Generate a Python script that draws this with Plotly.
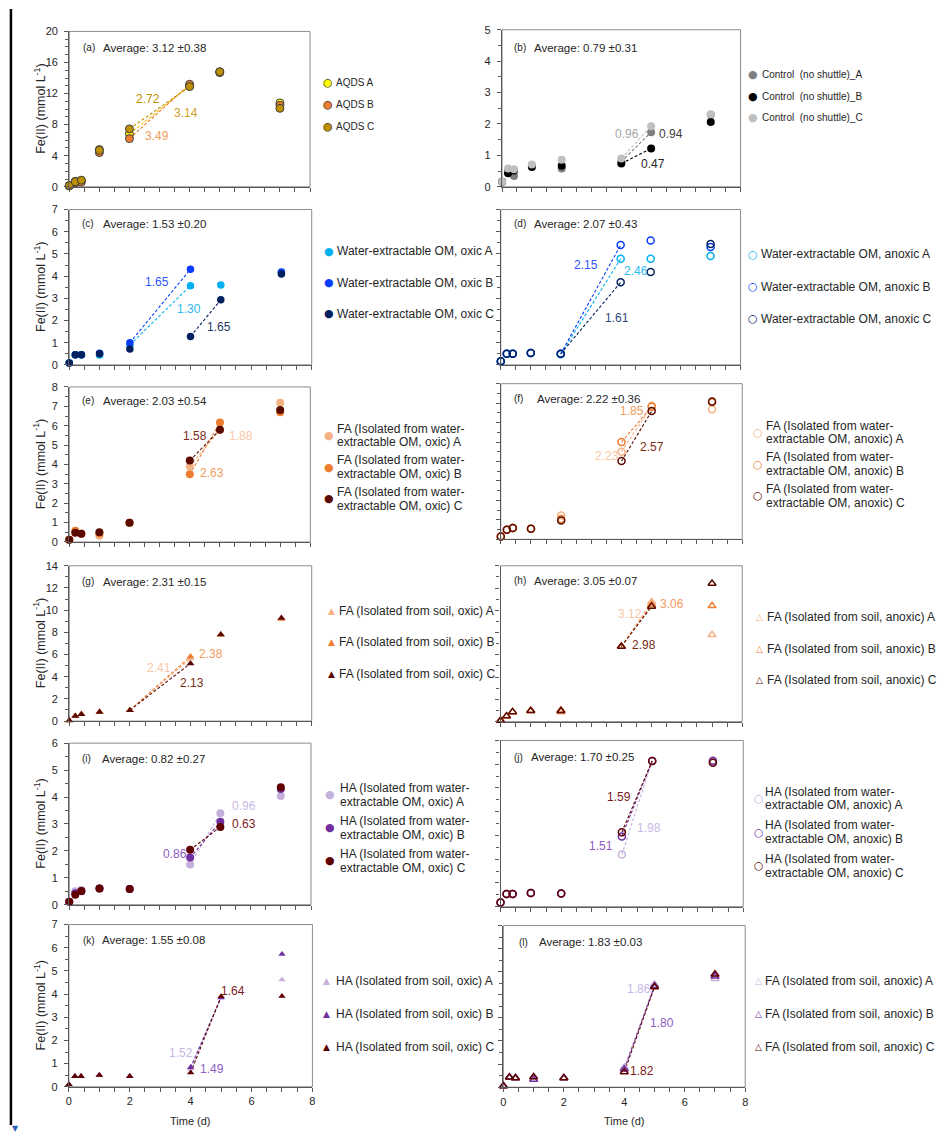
import plotly.graph_objects as go

W, H = 939, 1139

# ---------------- data ----------------
T = [0, 0.2, 0.4, 1, 2, 4, 5, 7]

a_A = [0.15, 0.7, 0.8, 4.8, 6.8, 13.0, 14.8, 10.8]
a_B = [0.1, 0.5, 0.6, 4.4, 6.2, 13.2, 14.7, 10.5]
a_C = [0.15, 0.65, 0.85, 4.7, 7.45, 12.9, 14.8, 10.1]

b_A = [0.16, 0.5, 0.34, 0.68, 0.58, 0.8, 1.74, 2.29]
b_B = [0.16, 0.43, 0.52, 0.63, 0.67, 0.74, 1.22, 2.06]
b_C = [0.16, 0.58, 0.56, 0.71, 0.86, 0.9, 1.93, 2.31]

c_A = [0.09, 0.46, 0.46, 0.45, 0.9, 3.57, 3.6, 4.15]
c_B = [0.09, 0.46, 0.46, 0.52, 1.0, 4.31, None, 4.18]
c_C = [0.09, 0.46, 0.46, 0.5, 0.72, 1.28, 2.93, 4.1]

d_A = [0.16, 0.5, 0.5, 0.54, 0.48, 4.78, 4.78, 4.91]
d_B = [0.16, 0.5, 0.5, 0.54, 0.5, 5.4, 5.61, 5.31]
d_C = [0.16, 0.5, 0.5, 0.54, 0.5, 3.72, 4.19, 5.45]

e_A = [0.12, 0.5, 0.43, 0.32, 0.99, 3.9, 5.78, 7.18]
e_B = [0.12, 0.58, 0.43, 0.45, 0.99, 3.49, 6.16, 6.7]
e_C = [0.12, 0.48, 0.43, 0.5, 0.99, 4.2, 5.79, 6.81]

f_A = [0.14, 0.49, 0.58, 0.54, 1.22, 4.5, 6.86, 6.69]
f_B = [0.14, 0.49, 0.58, 0.54, 1.05, 5.0, 6.81, 7.05]
f_C = [0.14, 0.49, 0.58, 0.54, 0.97, 4.02, 6.59, 7.08]

g_A = [0.05, 0.45, 0.62, 0.83, 0.98, 5.65, 7.77, 9.26]
g_B = [0.05, 0.45, 0.62, 0.83, 0.98, 5.83, 7.77, 9.2]
g_C = [0.05, 0.45, 0.62, 0.83, 0.98, 5.2, 7.8, 9.3]

h_A = [0.1, 0.5, 0.88, 0.98, 1.05, 6.75, 10.75, 7.8]
h_B = [0.1, 0.5, 0.88, 0.98, 0.9, 6.75, 10.5, 10.4]
h_C = [0.1, 0.5, 0.88, 0.98, 0.98, 6.75, 10.35, 12.4]

i_A = [0.11, 0.5, 0.55, 0.6, 0.58, 1.49, 3.4, 4.04]
i_B = [0.11, 0.43, 0.5, 0.6, 0.58, 1.75, 3.08, 4.3]
i_C = [0.11, 0.37, 0.51, 0.6, 0.58, 2.04, 2.89, 4.36]

j_A = [0.18, 0.54, 0.54, 0.58, 0.56, 2.2, 6.14, 6.1]
j_B = [0.18, 0.54, 0.54, 0.58, 0.56, 2.96, 6.14, 6.15]
j_C = [0.18, 0.54, 0.54, 0.58, 0.56, 3.14, 6.14, 6.06]

k_A = [0.1, 0.45, 0.45, 0.5, 0.45, 0.77, 3.85, 4.62]
k_B = [0.1, 0.45, 0.45, 0.5, 0.45, 0.84, 3.85, 5.72]
k_C = [0.1, 0.45, 0.45, 0.5, 0.45, 0.61, 3.9, 3.91]

l_A = [0.05, 0.43, 0.4, 0.44, 0.4, 0.85, 4.45, 4.7]
l_B = [0.05, 0.43, 0.4, 0.33, 0.4, 0.78, 4.38, 4.8]
l_C = [0.05, 0.43, 0.4, 0.44, 0.4, 0.66, 4.34, 4.89]

a_names = ["AQDS A", "AQDS B", "AQDS C"]
b_names = ["Control\u00a0 (no shuttle)_A", "Control\u00a0 (no shuttle)_B", "Control\u00a0 (no shuttle)_C"]
c_names = ["Water-extractable OM, oxic A", "Water-extractable OM, oxic B", "Water-extractable OM, oxic C"]
d_names = ["Water-extractable OM, anoxic A", "Water-extractable OM, anoxic B", "Water-extractable OM, anoxic C"]
e_names = ["FA (Isolated from water-<br>extractable OM, oxic) " + s for s in "ABC"]
f_names = ["FA (Isolated from water-<br>extractable OM, anoxic) " + s for s in "ABC"]
g_names = ["FA (Isolated from soil, oxic) " + s for s in "ABC"]
h_names = ["FA (Isolated from soil, anoxic) " + s for s in "ABC"]
i_names = ["HA (Isolated from water-<br>extractable OM, oxic) " + s for s in "ABC"]
j_names = ["HA (Isolated from water-<br>extractable OM, anoxic) " + s for s in "ABC"]
k_names = ["HA (Isolated from soil, oxic) " + s for s in "ABC"]
l_names = ["FA (Isolated from soil, anoxic) " + s for s in "ABC"]

averages = ["3.12 ±0.38", "0.79 ±0.31", "1.53 ±0.20", "2.07 ±0.43", "2.03 ±0.54", "2.22 ±0.36",
            "2.31 ±0.15", "3.05 ±0.07", "0.82 ±0.27", "1.70 ±0.25", "1.55 ±0.08", "1.83 ±0.03"]

a_rates = ["2.72", "3.14", "3.49"]
b_rates = ["0.96", "0.94", "0.47"]
c_rates = ["1.65", "1.30", "1.65"]
d_rates = ["2.15", "2.46", "1.61"]
e_rates = ["1.58", "1.88", "2.63"]
f_rates = ["1.85", "2.57", "2.23"]
g_rates = ["2.41", "2.38", "2.13"]
h_rates = ["3.12", "3.06", "2.98"]
i_rates = ["0.96", "0.63", "0.86"]
j_rates = ["1.59", "1.98", "1.51"]
k_rates = ["1.64", "1.52", "1.49"]
l_rates = ["1.86", "1.80", "1.82"]

x_ticks = [0, 2, 4, 6, 8]

# ---------------- styles ----------------
GOLD = ["#FFFF00", "#ED7D31", "#BF9000"]
GRAY = ["#7F7F7F", "#000000", "#BFBFBF"]
BLUE = ["#00B0F0", "#0A3CFF", "#002060"]
ORNG = ["#F4B183", "#ED7D31", "#5A0A00"]
PURP = ["#C5B0DC", "#7030A0", "#600000"]

LT_OR, OR, DK_BR = "#F8C8A8", "#F29B5E", "#7B2C14"
LT_PU, PU, DK_RD = "#C9B8E6", "#8E5CC2", "#7B1A1A"

S24, S45 = (2, 4), (4, 5)

GLYPH = {"circle": "●", "circle-open": "○", "triangle-up": "▲", "triangle-up-open": "△"}

panels = [
    dict(k="a", data=[a_A, a_B, a_C], names=a_names, col=GOLD, sym="circle", msize=8, outline="#3F3F3F",
         lcol=["#FFC000", "#ED7D31", "#BF9000"],
         seg=[S24] * 3, rates=a_rates, rpos=[(2.62, 11.3), (3.88, 9.55), (2.91, 6.5)],
         rcol=["#BF9000", "#CFA21E", "#F29B5E"],
         dom=(66.7, 309, 25.7, 182.7), ymax=20, dt=4, mdt=1, ylab=True,
         leg=(327, 334, 77, 22.5, 10), avg=(80, 100, 42)),
    dict(k="b", data=[b_A, b_B, b_C], names=b_names, col=GRAY, sym="circle", msize=8, outline=None,
         lcol=["#7F7F7F", "#000000", "#BFBFBF"],
         seg=[S45] * 3, rates=b_rates, rpos=[(4.18, 1.68), (5.65, 1.68), (5.07, 0.72)],
         rcol=["#A6A6A6", "#404040", "#262626"],
         dom=(502.3, 742.3, 24, 182.7), ymax=5, dt=1, mdt=0.5, ylab=True,
         leg=(755, 763, 69, 22, 10), avg=(513, 533, 42)),
    dict(k="c", data=[c_A, c_B, c_C], names=c_names, col=BLUE, sym="circle", msize=7.5, outline=None,
         lcol=BLUE, seg=[S24, S24, S45], rates=c_rates, rpos=[(2.9, 3.72), (3.94, 2.51), (4.93, 1.7)],
         rcol=["#3355FF", "#2EBBF0", "#1F3864"],
         dom=(66.7, 310.7, 205.7, 362.7), ymax=7, dt=1, mdt=0.5, ylab=True,
         leg=(328, 335, 248, 31.5, 12), avg=(79, 100, 220)),
    dict(k="d", data=[d_A, d_B, d_C], names=d_names, col=BLUE, sym="circle-open", msize=7, outline=None,
         lcol=BLUE, seg=[S24] * 3, rates=d_rates, rpos=[(2.85, 4.48), (4.5, 4.25), (3.88, 2.1)],
         rcol=["#3355FF", "#2EBBF0", "#2F4A7A"],
         dom=(501, 742.3, 205.7, 362.7), ymax=7, dt=1, mdt=0.5, ylab=False,
         leg=(755, 762, 251, 32.5, 12), avg=(513, 533, 220)),
    dict(k="e", data=[e_A, e_B, e_C], names=e_names, col=ORNG, sym="circle", msize=8, outline=None,
         lcol=ORNG, seg=[S45] * 3, rates=e_rates, rpos=[(4.17, 5.49), (5.69, 5.49), (4.73, 3.55)],
         rcol=[DK_BR, LT_OR, OR],
         dom=(66.7, 309.3, 385, 541.7), ymax=8, dt=1, mdt=0.5, ylab=True,
         leg=(328, 335, 434, 32, 12), avg=(79, 100, 399)),
    dict(k="f", data=[f_A, f_B, f_C], names=f_names, col=ORNG, sym="circle-open", msize=7, outline=None,
         lcol=ORNG, seg=[S45] * 3, rates=f_rates, rpos=[(4.34, 6.61), (5.0, 4.73), (3.52, 4.27)],
         rcol=[OR, DK_BR, LT_OR],
         dom=(501, 744, 381.7, 539), ymax=8, dt=1, mdt=0.5, ylab=False,
         leg=(760, 767, 431, 32, 12), avg=(513, 536, 397)),
    dict(k="g", data=[g_A, g_B, g_C], names=g_names, col=ORNG, sym="triangle-up", msize=7, outline=None,
         lcol=ORNG, seg=[S24] * 3, rates=g_rates, rpos=[(2.96, 4.79), (4.67, 6.04), (4.04, 3.45)],
         rcol=[LT_OR, OR, DK_BR],
         dom=(66.7, 310.7, 565.7, 722.7), ymax=14, dt=2, mdt=1, ylab=True,
         leg=(331, 337, 611, 32, 12), avg=(79, 100, 582)),
    dict(k="h", data=[h_A, h_B, h_C], names=h_names, col=ORNG, sym="triangle-up-open", msize=7, outline=None,
         lcol=ORNG, seg=[S45] * 3, rates=h_rates, rpos=[(4.29, 9.71), (5.67, 10.6), (4.75, 6.87)],
         rcol=[LT_OR, OR, DK_BR],
         dom=(500.7, 744, 565.7, 723.3), ymax=14, dt=2, mdt=1, ylab=False,
         leg=(761, 768, 618, 31.5, 12), avg=(513, 533, 581)),
    dict(k="i", data=[i_A, i_B, i_C], names=i_names, col=PURP, sym="circle", msize=8, outline=None,
         lcol=PURP, seg=[S45] * 3, rates=i_rates, rpos=[(5.77, 3.65), (5.77, 2.99), (3.5, 1.89)],
         rcol=[LT_PU, DK_RD, PU],
         dom=(66.7, 310, 745, 908.3), ymax=6, dt=1, mdt=0.5, ylab=True,
         leg=(329, 338, 797, 33.5, 12), avg=(79, 99, 761)),
    dict(k="j", data=[j_A, j_B, j_C], names=j_names, col=PURP, sym="circle-open", msize=7, outline=None,
         lcol=PURP, seg=[S45] * 3, rates=j_rates, rpos=[(3.91, 4.6), (4.9, 3.3), (3.32, 2.56)],
         rcol=[DK_RD, LT_PU, PU],
         dom=(500.7, 745, 742.3, 910.3), ymax=7, dt=1, mdt=0.5, ylab=False,
         leg=(761, 766, 801, 34, 12), avg=(513, 530, 759)),
    dict(k="k", data=[k_A, k_B, k_C], names=k_names, col=PURP, sym="triangle-up", msize=6.5, outline=None,
         lcol=PURP, seg=[S45] * 3, rates=k_rates, rpos=[(5.38, 4.15), (3.68, 1.46), (4.69, 0.78)],
         rcol=[DK_RD, LT_PU, PU],
         dom=(66.3, 311.4, 928.3, 1092.3), ymax=7, dt=1, mdt=0.5, ylab=True,
         leg=(326, 334, 985, 33.5, 12), avg=(80, 99, 944)),
    dict(k="l", data=[l_A, l_B, l_C], names=l_names, col=PURP, sym="triangle-up-open", msize=7, outline=None,
         lcol=PURP, seg=[S45] * 3, rates=l_rates, rpos=[(4.49, 4.27), (5.24, 2.77), (4.59, 0.72)],
         rcol=[LT_PU, PU, DK_RD],
         dom=(503.6, 747, 929.3, 1092.7), ymax=7, dt=1, mdt=0.5, ylab=False,
         leg=(760, 766, 985, 33.5, 12), avg=(518, 538, 946)),
]

FONT = "Liberation Sans, Arial, sans-serif"
GFONT = "DejaVu Sans, sans-serif"
AXC = "#595959"
TXT = "#262626"


def PX(x):
    return x / W


def PY(y):
    return 1 - y / H


fig = go.Figure()
layout = dict(width=W, height=H, margin=dict(l=0, r=0, t=0, b=0), autosize=False,
              paper_bgcolor="white", plot_bgcolor="white",
              font=dict(family=FONT, color=TXT), showlegend=False)
annotations = []
shapes = []


def txt(x, y, text, size, color=TXT, xanchor="left", family=FONT, **kw):
    d = dict(xref="paper", yref="paper", x=PX(x), y=PY(y), xanchor=xanchor, yanchor="middle",
             text=text, showarrow=False, borderpad=0, font=dict(size=size, color=color, family=family))
    d.update(kw)
    annotations.append(d)


for n, p in enumerate(panels, start=1):
    sx = "" if n == 1 else str(n)
    xa, ya = "x" + sx, "y" + sx
    x0, x1, y0, y1 = p["dom"]

    # dashed rate lines, drawn between the measured points
    for s in range(3):
        ta, tb = p["seg"][s]
        ys = p["data"][s]
        fig.add_trace(go.Scatter(
            x=[ta, tb], y=[ys[T.index(ta)], ys[T.index(tb)]], mode="lines",
            line=dict(color=p["lcol"][s], width=1.1, dash="3px,2px"),
            xaxis=xa, yaxis=ya, showlegend=False, hoverinfo="skip", cliponaxis=False))

    # measured points
    for s in range(3):
        if "open" in p["sym"]:
            mk = dict(symbol=p["sym"], size=p["msize"], color=p["col"][s],
                      line=dict(color=p["col"][s], width=1.5))
        elif p["outline"]:
            mk = dict(symbol=p["sym"], size=p["msize"], color=p["col"][s],
                      line=dict(color=p["outline"], width=1))
        else:
            mk = dict(symbol=p["sym"], size=p["msize"], color=p["col"][s], line=dict(width=0))
        fig.add_trace(go.Scatter(
            x=T, y=p["data"][s], mode="markers", marker=mk, name=p["names"][s].replace("<br>", " "),
            xaxis=xa, yaxis=ya, showlegend=False, cliponaxis=False))

    layout["xaxis" + sx] = dict(
        domain=[PX(x0), PX(x1)], range=[0, 8], anchor=ya, tickvals=x_ticks,
        ticks="outside", ticklen=4, tickcolor=AXC, tickwidth=1,
        showticklabels=p["k"] in ("k", "l"), tickfont=dict(size=11, color=TXT),
        showline=True, linecolor=AXC, linewidth=1.3, showgrid=False, zeroline=False,
        minor=dict(dtick=0.5, tick0=0, ticks="outside", ticklen=4, tickcolor=AXC, showgrid=False))
    layout["yaxis" + sx] = dict(
        domain=[PY(y1), PY(y0)], range=[0, p["ymax"]], anchor=xa, dtick=p["dt"], tick0=0,
        ticks="outside", ticklen=4, tickcolor=AXC, tickwidth=1, ticklabelstandoff=4,
        showticklabels=p["ylab"], tickfont=dict(size=11, color=TXT),
        showline=True, linecolor=AXC, linewidth=1.3, showgrid=False, zeroline=False,
        minor=dict(dtick=p["mdt"], tick0=0, ticks="outside", ticklen=3, tickcolor=AXC, showgrid=False))

    # panel frame (top / right lighter)
    shapes.append(dict(type="rect", xref=xa + " domain", yref=ya + " domain",
                       x0=0, x1=1, y0=0, y1=1, line=dict(color="#8C8C8C", width=1), layer="below"))

    # legend keys (glyph + text)
    mx, tx, cy, sp, fs = p["leg"]
    gsize = 11 if "circle" in p["sym"] else 9
    for s in range(3):
        yy = cy + s * sp
        txt(mx, yy, GLYPH[p["sym"]], gsize, color=p["col"][s], xanchor="center", family=GFONT)
        if p["outline"]:
            txt(mx, yy, "○", gsize, color=p["outline"], xanchor="center", family=GFONT)
        lines = p["names"][s].split("<br>")
        if len(lines) == 1:
            txt(tx, yy, lines[0], fs)
        else:
            txt(tx, yy - 7, lines[0], fs)
            txt(tx, yy + 7, lines[1], fs)

    # panel letter + average
    lx, axx, ay = p["avg"]
    txt(lx, ay, "(" + p["k"] + ")", 10)
    txt(axx, ay, "Average: " + averages[n - 1], 11.5)

    # rate labels
    for s in range(3):
        rx, ry = p["rpos"][s]
        annotations.append(dict(xref=xa, yref=ya, x=rx, y=ry, text=p["rates"][s], showarrow=False,
                                xanchor="center", yanchor="middle",
                                font=dict(size=12, color=p["rcol"][s])))

    if p["k"] in ("a", "c", "e", "g", "i", "k"):
        txt(37, (y0 + y1) / 2, "Fe(II) (mmol L<sup>-1</sup>)", 12.5, xanchor="center", textangle=-90)
    if p["k"] in ("k", "l"):
        txt((x0 + x1) / 2, 1127, "Time (d)", 11, xanchor="center")

# left border bar and small marker
shapes.append(dict(type="line", xref="paper", yref="paper", x0=PX(8), x1=PX(8), y0=PY(3), y1=PY(1131),
                   line=dict(color="black", width=2.5)))
txt(13, 1134, "▼", 8, color="#2E5FB8", xanchor="center", family=GFONT)

layout["annotations"] = annotations
layout["shapes"] = shapes
fig.update_layout(**layout)
fig.write_html(
    "out.html",
    config={"displayModeBar": False, "responsive": False},
    post_script=("document.documentElement.style.margin='0';document.body.style.margin='0';"
                 "document.documentElement.style.overflow='hidden';document.body.style.overflow='hidden';"
                 "var dd=document.querySelector('.plotly-graph-div');dd.style.position='absolute';"
                 "dd.style.top='0px';dd.style.left='0px';"),
)
